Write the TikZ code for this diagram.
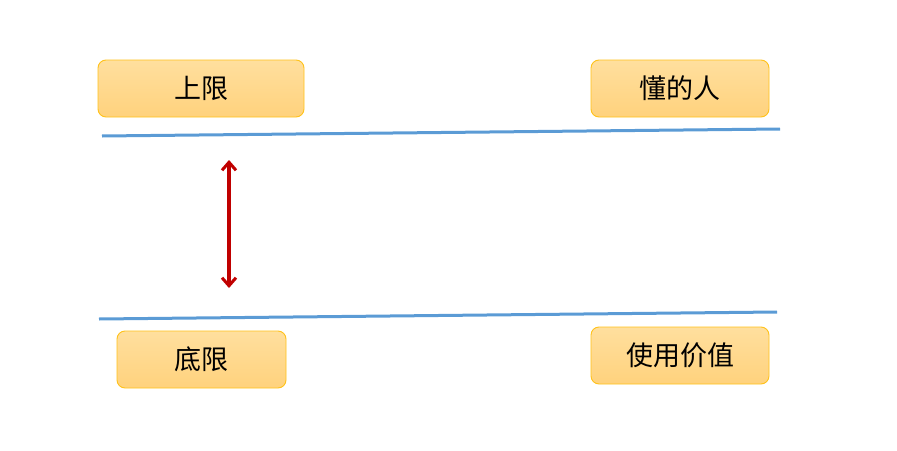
\documentclass[tikz,border=0pt]{standalone}
\usepackage{fontspec}
\newfontfamily\cjk{Noto Sans CJK SC}
\usetikzlibrary{arrows.meta}
\definecolor{boxtop}{HTML}{FFDF9E}
\definecolor{boxbot}{HTML}{FFD27D}
\definecolor{boxline}{HTML}{FFC21A}
\definecolor{blueline}{HTML}{5B9BD5}
\definecolor{darkred}{HTML}{C00000}
\tikzset{
  x=1pt, y=-1pt,
  labelbox/.style={rounded corners=8pt, draw=boxline, line width=0.9pt,
    top color=boxtop, bottom color=boxbot, inner sep=0pt,
    font=\cjk\fontsize{27}{30}\selectfont, text=black},
  levelline/.style={draw=blueline, line width=3pt},
  rangearrow/.style={draw=darkred, line width=3.5pt,
    {Straight Barb[length=8pt,width=14pt,line width=3pt]}-{Straight Barb[length=8pt,width=14pt,line width=3pt]}}
}
\begin{document}
\begin{tikzpicture}
\useasboundingbox (0,0) rectangle (897,450);
\node[labelbox, minimum width=206pt, minimum height=57pt] (upper) at (201,88.5) {上限};
\node[labelbox, minimum width=178pt, minimum height=57pt] (people) at (680,88.5) {懂的人};
\node[labelbox, minimum width=169pt, minimum height=57pt] (lower) at (201.5,359.5) {底限};
\node[labelbox, minimum width=178pt, minimum height=57pt] (value) at (680,355.5) {使用价值};
\coordinate (t1) at (102,136);
\coordinate (t2) at (780,129);
\coordinate (b1) at (99,319);
\coordinate (b2) at (777,312);
\draw[levelline] (t1) -- (t2);
\draw[levelline] (b1) -- (b2);
\coordinate (a1) at (229,160);
\coordinate (a2) at (229,288);
\draw[rangearrow] (a1) -- (a2);
\end{tikzpicture}
\end{document}
